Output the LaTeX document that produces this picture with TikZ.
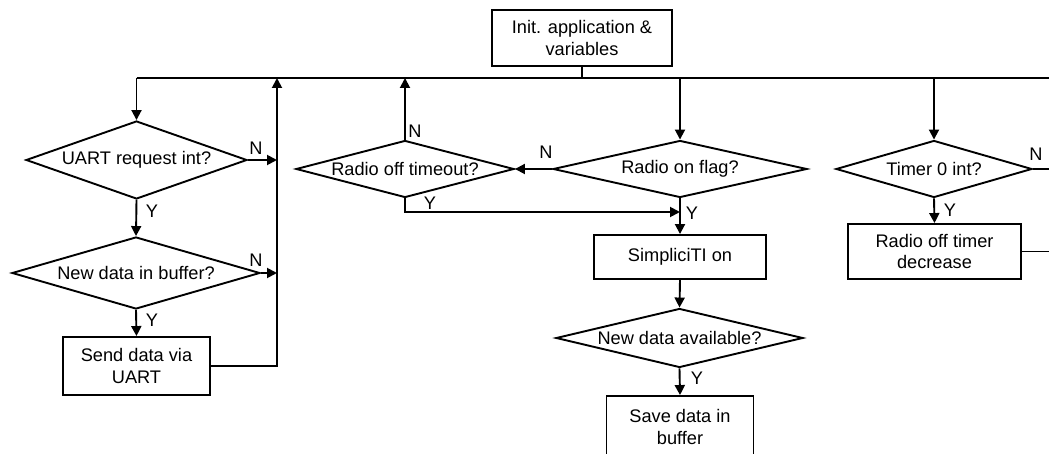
\documentclass[tikz,border=0pt]{standalone}
\usepackage{fontspec}
\setmainfont{Liberation Sans}
\usetikzlibrary{shapes.geometric,arrows.meta}
\begin{document}
\begin{tikzpicture}[x=1pt,y=-1pt,
  every node/.style={font=\fontsize{18.2}{21.5}\selectfont},
  flow/.style={line width=1.9pt},
  arr/.style={flow,-{Triangle[length=10pt,width=10pt]}},
  procbox/.style={draw,line width=1.9pt,rectangle,align=center,inner sep=0pt},
  decide/.style={draw,line width=1.9pt,diamond,inner sep=0pt,align=center},
  lbl/.style={inner sep=0pt,anchor=center}]
\useasboundingbox (0,0) rectangle (1049,454);
\clip (0,0) rectangle (1049,454);

% process boxes
\node[procbox,minimum width=180pt,minimum height=56pt] (init) at (582,38) {Init. application \&\\variables};
\node[procbox,minimum width=147pt,minimum height=58pt] (send) at (136.5,366) {Send data via\\UART};
\node[procbox,minimum width=172pt,minimum height=44pt] (simon) at (680,257) {SimpliciTI on};
\node[procbox,minimum width=147pt,minimum height=62pt] (save) at (680,427) {Save data in\\buffer};
\node[procbox,minimum width=173pt,minimum height=55pt] (dec) at (934.5,251.5) {Radio off timer\\decrease};

% decisions
\node[decide,shape aspect=2.83,minimum width=221pt,minimum height=78pt] (uart) at (136.5,160) {UART request int?};
\node[decide,shape aspect=3.44,minimum width=248pt,minimum height=72pt] (buf) at (136,273) {New data in buffer?};
\node[decide,shape aspect=3.82,minimum width=218pt,minimum height=57pt] (tout) at (405,169) {Radio off timeout?};
\node[decide,shape aspect=4.46,minimum width=254pt,minimum height=57pt] (flag) at (680,169) {Radio on flag?};
\node[decide,shape aspect=4.19,minimum width=247pt,minimum height=59pt] (avail) at (679.5,338) {New data available?};
\node[decide,shape aspect=3.44,minimum width=196pt,minimum height=57pt] (tmr) at (934,169) {Timer 0 int?};

% bus line and its taps
\coordinate (busL) at (136.5,78);
\coordinate (busR) at (1049,78);
\coordinate (busInit) at (init.south |- busL);
\coordinate (busRet) at (277,78);
\coordinate (busTout) at (tout.north |- busL);
\coordinate (busFlag) at (flag.north |- busL);
\coordinate (busTmr) at (tmr.north |- busL);
\coordinate (retUart) at (277,160);
\coordinate (retBuf) at (277,273);
\coordinate (retSend) at (277,366);
\coordinate (toutY) at (405,212);
\coordinate (flagY) at (680,212);
\coordinate (tmrN) at (1049,169);
\coordinate (decOut) at (1049,251.5);

\draw[flow] (init.south) -- (busInit);
\draw[flow] (busL) -- (busR);

% left column
\draw[arr] (busL) -- (uart.north);
\draw[arr] (uart.south) -- (buf.north);
\draw[arr] (buf.south) -- (send.north);
\draw[arr] (uart.east) -- (retUart);
\draw[arr] (buf.east) -- (retBuf);
\draw[arr] (send.east) -- (retSend) -- (busRet);

% middle column
\draw[arr] (tout.north) -- (busTout);
\draw[arr] (busFlag) -- (flag.north);
\draw[arr] (flag.west) -- (tout.east);
\draw[arr] (tout.south) -- (toutY) -- (flagY);
\draw[arr] (flag.south) -- (simon.north);
\draw[arr] (simon.south) -- (avail.north);
\draw[arr] (avail.south) -- (save.north);

% right column
\draw[arr] (busTmr) -- (tmr.north);
\draw[flow] (tmr.east) -- (tmrN);
\draw[arr] (tmr.south) -- (dec.north);
\draw[flow] (dec.east) -- (decOut);

% branch labels
\node[lbl] (n1) at (256,148) {N};
\node[lbl] (y1) at (152,211) {Y};
\node[lbl] (n2) at (256,260) {N};
\node[lbl] (y2) at (152,320) {Y};
\node[lbl] (n3) at (415,131) {N};
\node[lbl] (y3) at (430,203) {Y};
\node[lbl] (n4) at (546,152) {N};
\node[lbl] (y4) at (692,213) {Y};
\node[lbl] (y5) at (697,378) {Y};
\node[lbl] (n6) at (1036,154) {N};
\node[lbl] (y6) at (950,210) {Y};
\end{tikzpicture}
\end{document}
